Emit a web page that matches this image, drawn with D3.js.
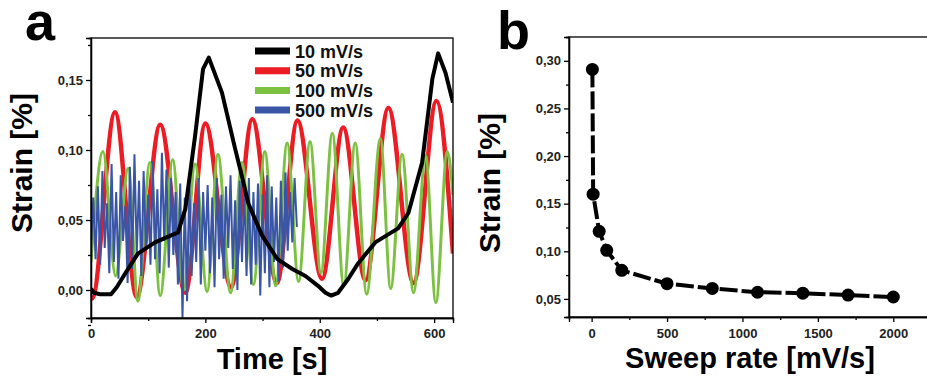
<!DOCTYPE html>
<html>
<head>
<meta charset="utf-8">
<script src="https://cdn.jsdelivr.net/npm/d3@7"></script>
<style>
  body { margin: 0; background: #fff; }
  svg { display: block; font-family: "Liberation Sans", Arial, sans-serif; }
  .tick text { font-size: 13px; font-weight: bold; fill: #222; }
  .domain, .tick line { stroke: #000; stroke-width: 1.3; }
</style>
</head>
<body>
<figure id="chart" style="margin:0"></figure>
<script>
// panel a: strain vs time at four sweep rates
const seriesNames = ["10 mV/s", "50 mV/s", "100 mV/s", "500 mV/s"];

const blackT = [0, 5, 16, 35, 45, 60, 82, 112, 140, 152, 165, 182, 196, 206, 229, 252, 264, 275, 299, 326, 352, 375, 397, 410, 420, 432, 450, 467, 497, 537, 555, 579, 597, 607, 620, 633];
const blackV = [0.001, -0.002, -0.003, -0.003, 0.002, 0.012, 0.026, 0.034, 0.039, 0.041, 0.058, 0.110, 0.158, 0.166, 0.141, 0.101, 0.081, 0.062, 0.039, 0.022, 0.015, 0.010, 0.003, -0.002, -0.004, -0.002, 0.008, 0.019, 0.034, 0.044, 0.055, 0.091, 0.151, 0.169, 0.155, 0.134];

const redT = [0, 2, 42, 80, 121, 165, 200, 245, 282, 325, 361, 404, 441, 480, 520, 564, 604, 633];
const redV = [-0.004, -0.006, 0.127, -0.005, 0.118, -0.002, 0.119, 0.002, 0.122, 0.005, 0.121, 0.008, 0.116, 0.007, 0.130, 0.005, 0.135, 0.026];

const greenT = [0, 21, 43, 65, 82, 103, 121, 143, 162, 182, 203, 222, 244, 264, 284, 304, 323, 343, 363, 383, 402, 422, 442, 462, 482, 506, 524, 544, 564, 585, 603, 623, 633];
const greenV = [0.020, 0.099, 0.010, 0.087, -0.008, 0.091, -0.004, 0.093, 0.000, 0.090, -0.001, 0.097, -0.002, 0.091, 0.004, 0.099, 0.003, 0.105, 0.006, 0.106, 0.012, 0.112, 0.003, 0.105, -0.003, 0.108, 0.001, 0.097, -0.002, 0.096, -0.009, 0.099, 0.068];

// 500 mV/s, sampled every 4 s from 0 to 360 s
const blueStep = 4;
const blueV = [0.030, 0.066, 0.022, 0.074, 0.018, 0.085, 0.030, 0.062, 0.012, 0.090,
  0.020, 0.070, 0.008, 0.082, 0.035, 0.060, 0.005, 0.088, 0.015, 0.097,
  0.025, 0.078, 0.010, 0.085, 0.030, 0.068, 0.018, 0.092, 0.022, 0.072,
  0.012, 0.098, 0.035, 0.086, 0.016, 0.080, 0.025, 0.070, 0.004, 0.076,
  -0.020, 0.066, -0.008, 0.078, 0.010, 0.062, 0.020, 0.080, 0.004, 0.070,
  0.028, 0.075, 0.012, 0.066, 0.002, 0.080, 0.022, 0.068, 0.008, 0.074,
  0.030, 0.082, 0.015, 0.064, 0.000, 0.078, 0.020, 0.072, 0.010, 0.080,
  0.004, 0.070, 0.018, 0.076, -0.004, 0.068, 0.012, 0.082, 0.002, 0.074,
  0.020, 0.066, 0.006, 0.078, 0.016, 0.084, 0.028, 0.070, 0.034, 0.080, 0.045];

const xTicksA = [0, 200, 400, 600];
const yTicksA = [0, 0.05, 0.10, 0.15];

// panel b: peak strain vs sweep rate
const sweepRate = [5, 10, 50, 100, 200, 500, 800, 1100, 1400, 1700, 2000];
const strainB = [0.291, 0.160, 0.121, 0.101, 0.080, 0.066, 0.061, 0.057, 0.056, 0.054, 0.052];
const xTicksB = [0, 500, 1000, 1500, 2000];
const yTicksB = [0.05, 0.10, 0.15, 0.20, 0.25, 0.30];

const colors = ["#000000", "#ec1c24", "#7cc142", "#3a55a5"];

const W = 927, H = 379;
const svg = d3.select("#chart").append("svg").attr("width", W).attr("height", H);

const comma = d3.formatLocale({decimal: ",", thousands: ".", grouping: [3], currency: ["", ""]}).format(".2f");

// ---------- panel a ----------
const xA = d3.scaleLinear().domain([0, 633]).range([91, 453]);
const yA = d3.scaleLinear().domain([-0.02, 0.18]).range([318, 38]);

svg.append("clipPath").attr("id", "clipA").append("rect")
  .attr("x", 91).attr("y", 38).attr("width", 362).attr("height", 280);

const gA = svg.append("g").attr("clip-path", "url(#clipA)");

const lineA = (curve) => d3.line().x(d => xA(d[0])).y(d => yA(d[1])).curve(curve);

gA.append("path").datum(d3.zip(redT, redV))
  .attr("d", lineA(d3.curveMonotoneX)).attr("fill", "none")
  .attr("stroke", colors[1]).attr("stroke-width", 4.5);

gA.append("path").datum(d3.zip(greenT, greenV))
  .attr("d", lineA(d3.curveMonotoneX)).attr("fill", "none")
  .attr("stroke", colors[2]).attr("stroke-width", 3);

gA.append("path").datum(blueV.map((v, i) => [i * blueStep, v]))
  .attr("d", lineA(d3.curveLinear)).attr("fill", "none")
  .attr("stroke", colors[3]).attr("stroke-width", 2);

gA.append("path").datum(d3.zip(blackT, blackV))
  .attr("d", lineA(d3.curveLinear)).attr("fill", "none")
  .attr("stroke", colors[0]).attr("stroke-width", 4).attr("stroke-linejoin", "round");

// frame
svg.append("rect").attr("x", 91).attr("y", 38).attr("width", 362).attr("height", 280)
  .attr("fill", "none").attr("stroke", "#000").attr("stroke-width", 1.3);

svg.append("g").attr("transform", "translate(0,318)")
  .call(d3.axisBottom(xA).tickValues([100, 300, 500]).tickSize(3).tickFormat(""));
svg.append("g").attr("transform", "translate(0,318)")
  .call(d3.axisBottom(xA).tickValues(xTicksA).tickSize(5).tickPadding(6).tickFormat(d3.format("d")));
svg.append("g").attr("transform", "translate(91,0)")
  .call(d3.axisLeft(yA).tickValues([-0.025, 0.025, 0.075, 0.125, 0.175]).tickSize(3).tickFormat(""));
svg.append("g").attr("transform", "translate(91,0)")
  .call(d3.axisLeft(yA).tickValues(yTicksA).tickSize(5).tickPadding(3).tickFormat(comma));

// legend
const legend = svg.append("g");
seriesNames.forEach((name, i) => {
  const y = 51 + i * 19.7;
  legend.append("line").attr("x1", 255).attr("x2", 290).attr("y1", y).attr("y2", y)
    .attr("stroke", colors[i]).attr("stroke-width", 7);
  legend.append("text").attr("x", 295).attr("y", y + 6.5)
    .attr("font-size", 18).attr("font-weight", "bold").attr("fill", "#111").text(name);
});

svg.append("text").attr("x", 25).attr("y", 40).attr("font-size", 54).attr("font-weight", "bold").text("a");
svg.append("text").attr("transform", "translate(32,163) rotate(-90)").attr("text-anchor", "middle")
  .attr("font-size", 30).attr("font-weight", "bold").text("Strain [%]");
svg.append("text").attr("x", 272).attr("y", 369).attr("text-anchor", "middle")
  .attr("font-size", 29).attr("font-weight", "bold").text("Time [s]");

// ---------- panel b ----------
const xB = d3.scaleLinear().domain([-150, 2230]).range([569, 928]);
const yB = d3.scaleLinear().domain([0.031, 0.325]).range([317, 37]);

svg.append("rect").attr("x", 569).attr("y", 37).attr("width", 359).attr("height", 280)
  .attr("fill", "none").attr("stroke", "#000").attr("stroke-width", 1.3);

svg.append("g").attr("transform", "translate(0,317)")
  .call(d3.axisBottom(xB).tickValues([250, 750, 1250, 1750]).tickSize(3).tickFormat(""));
svg.append("g").attr("transform", "translate(0,317)")
  .call(d3.axisBottom(xB).tickValues(xTicksB).tickSize(5).tickPadding(7).tickFormat(d3.format("d")));
svg.append("g").attr("transform", "translate(569,0)")
  .call(d3.axisLeft(yB).tickValues([0.075, 0.125, 0.175, 0.225, 0.275, 0.325]).tickSize(3).tickFormat(""));
svg.append("g").attr("transform", "translate(569,0)")
  .call(d3.axisLeft(yB).tickValues(yTicksB).tickSize(5).tickPadding(3).tickFormat(comma));

const ptsB = d3.zip(sweepRate, strainB);
svg.append("path").datum(ptsB)
  .attr("d", d3.line().x(d => xB(d[0])).y(d => yB(d[1])))
  .attr("fill", "none").attr("stroke", "#000").attr("stroke-width", 4)
  .attr("stroke-dasharray", "18,4");
svg.append("g").selectAll("circle").data(ptsB).join("circle")
  .attr("cx", d => xB(d[0])).attr("cy", d => yB(d[1])).attr("r", 6.5).attr("fill", "#000");

svg.append("text").attr("x", 497).attr("y", 49).attr("font-size", 54).attr("font-weight", "bold").text("b");
svg.append("text").attr("transform", "translate(500,183) rotate(-90)").attr("text-anchor", "middle")
  .attr("font-size", 30).attr("font-weight", "bold").text("Strain [%]");
svg.append("text").attr("x", 750).attr("y", 368).attr("text-anchor", "middle")
  .attr("font-size", 29).attr("font-weight", "bold").text("Sweep rate [mV/s]");
</script>
</body>
</html>
